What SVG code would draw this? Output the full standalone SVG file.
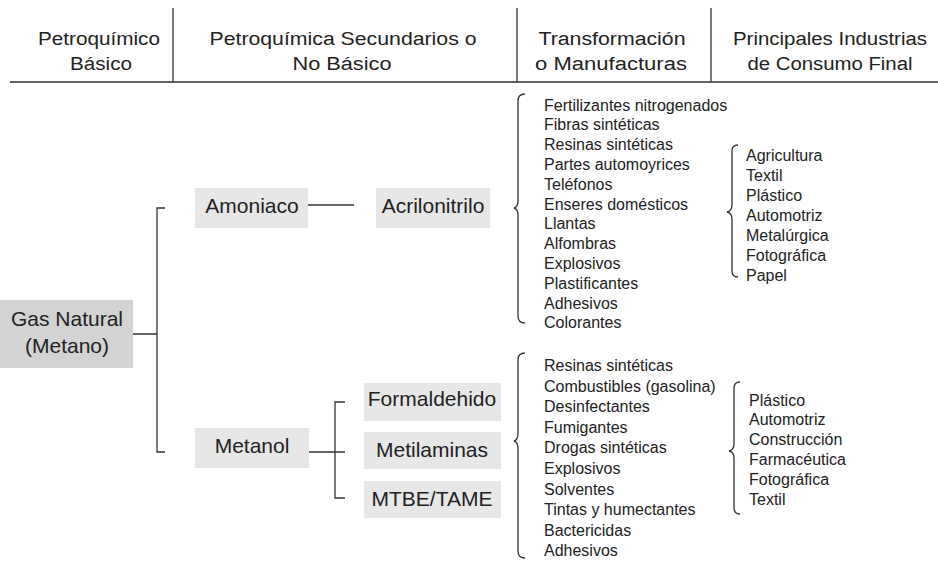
<svg xmlns="http://www.w3.org/2000/svg" width="938" height="567" viewBox="0 0 938 567">
<style>
text{font-family:"Liberation Sans",Arial,sans-serif;fill:#222}
.h{font-size:18px;text-anchor:middle}
.n{font-size:21px;text-anchor:middle}
.l{font-size:16px}
.ln{fill:none;stroke:#333;stroke-width:1.3}
.box{fill:#e7e7e7}
.box2{fill:#d3d3d3}
</style>
<rect width="938" height="567" fill="#fff"/>
<g id="header">
<path class="ln" d="M10 82H938M173 8V82M517 8V82M711 8V82"/>
<text class="h" x="99" y="44.5" textLength="122" lengthAdjust="spacingAndGlyphs">Petroquímico</text>
<text class="h" x="101" y="70" textLength="62" lengthAdjust="spacingAndGlyphs">Básico</text>
<text class="h" x="343" y="44.5" textLength="267" lengthAdjust="spacingAndGlyphs">Petroquímica Secundarios o</text>
<text class="h" x="342" y="70" textLength="99" lengthAdjust="spacingAndGlyphs">No Básico</text>
<text class="h" x="612" y="44.5" textLength="147" lengthAdjust="spacingAndGlyphs">Transformación</text>
<text class="h" x="611" y="70" textLength="152" lengthAdjust="spacingAndGlyphs">o Manufacturas</text>
<text class="h" x="830" y="44.5" textLength="194" lengthAdjust="spacingAndGlyphs">Principales Industrias</text>
<text class="h" x="830" y="70" textLength="165" lengthAdjust="spacingAndGlyphs">de Consumo Final</text>
</g>
<g id="connectors">
<path class="ln" d="M133 334H157M165 208H157V452H165"/>
<path class="ln" d="M308 205H354"/>
<path class="ln" d="M309 452H345M345 402H335V498H345"/>
<path class="ln" d="M525 94Q518 94 518 101V201Q518 207 514 208Q518 209 518 215V316Q518 323 525 323"/>
<path class="ln" d="M738 145Q732 145 732 151V205Q732 211 727 212Q732 213 732 219V271Q732 277 738 277"/>
<path class="ln" d="M525 353Q518 353 518 360V433Q518 440 514 441Q518 442 518 449V551Q518 558 525 558"/>
<path class="ln" d="M740 382Q734 382 734 388V444Q734 450 729 451Q734 452 734 458V508Q734 514 740 514"/>
</g>
<g id="gas-natural">
<rect class="box2" x="0" y="300" width="133" height="68"/>
<text class="n" x="67" y="326">Gas Natural</text>
<text class="n" x="67" y="353">(Metano)</text>
</g>
<g id="amoniaco">
<rect class="box" x="195" y="188" width="113" height="40"/>
<text class="n" x="252" y="213">Amoniaco</text>
</g>
<g id="acrilonitrilo">
<rect class="box" x="376" y="188" width="114" height="40"/>
<text class="n" x="433" y="213">Acrilonitrilo</text>
</g>
<g id="metanol">
<rect class="box" x="195" y="428" width="114" height="40"/>
<text class="n" x="252" y="453">Metanol</text>
</g>
<g id="formaldehido">
<rect class="box" x="364" y="383" width="137" height="38"/>
<text class="n" x="432" y="406">Formaldehido</text>
</g>
<g id="metilaminas">
<rect class="box" x="364" y="432" width="137" height="37"/>
<text class="n" x="432" y="457">Metilaminas</text>
</g>
<g id="mtbe-tame">
<rect class="box" x="364" y="481" width="137" height="37"/>
<text class="n" x="432" y="506">MTBE/TAME</text>
</g>
<g id="productos-acrilonitrilo">
<text class="l" x="544" y="110.5">Fertilizantes nitrogenados</text>
<text class="l" x="544" y="130.3">Fibras sintéticas</text>
<text class="l" x="544" y="150.1">Resinas sintéticas</text>
<text class="l" x="544" y="169.9">Partes automoyrices</text>
<text class="l" x="544" y="189.7">Teléfonos</text>
<text class="l" x="544" y="209.5">Enseres domésticos</text>
<text class="l" x="544" y="229.3">Llantas</text>
<text class="l" x="544" y="249.1">Alfombras</text>
<text class="l" x="544" y="268.9">Explosivos</text>
<text class="l" x="544" y="288.7">Plastificantes</text>
<text class="l" x="544" y="308.5">Adhesivos</text>
<text class="l" x="544" y="328.3">Colorantes</text>
</g>
<g id="industrias-acrilonitrilo">
<text class="l" x="746" y="161">Agricultura</text>
<text class="l" x="746" y="181">Textil</text>
<text class="l" x="746" y="201">Plástico</text>
<text class="l" x="746" y="221">Automotriz</text>
<text class="l" x="746" y="241">Metalúrgica</text>
<text class="l" x="746" y="261">Fotográfica</text>
<text class="l" x="746" y="281">Papel</text>
</g>
<g id="productos-metanol">
<text class="l" x="544" y="371">Resinas sintéticas</text>
<text class="l" x="544" y="391.6">Combustibles (gasolina)</text>
<text class="l" x="544" y="412.2">Desinfectantes</text>
<text class="l" x="544" y="432.8">Fumigantes</text>
<text class="l" x="544" y="453.4">Drogas sintéticas</text>
<text class="l" x="544" y="474">Explosivos</text>
<text class="l" x="544" y="494.6">Solventes</text>
<text class="l" x="544" y="515.2">Tintas y humectantes</text>
<text class="l" x="544" y="535.8">Bactericidas</text>
<text class="l" x="544" y="556.4">Adhesivos</text>
</g>
<g id="industrias-metanol">
<text class="l" x="749" y="405.5">Plástico</text>
<text class="l" x="749" y="425.3">Automotriz</text>
<text class="l" x="749" y="445.1">Construcción</text>
<text class="l" x="749" y="464.9">Farmacéutica</text>
<text class="l" x="749" y="484.7">Fotográfica</text>
<text class="l" x="749" y="504.5">Textil</text>
</g>
</svg>
